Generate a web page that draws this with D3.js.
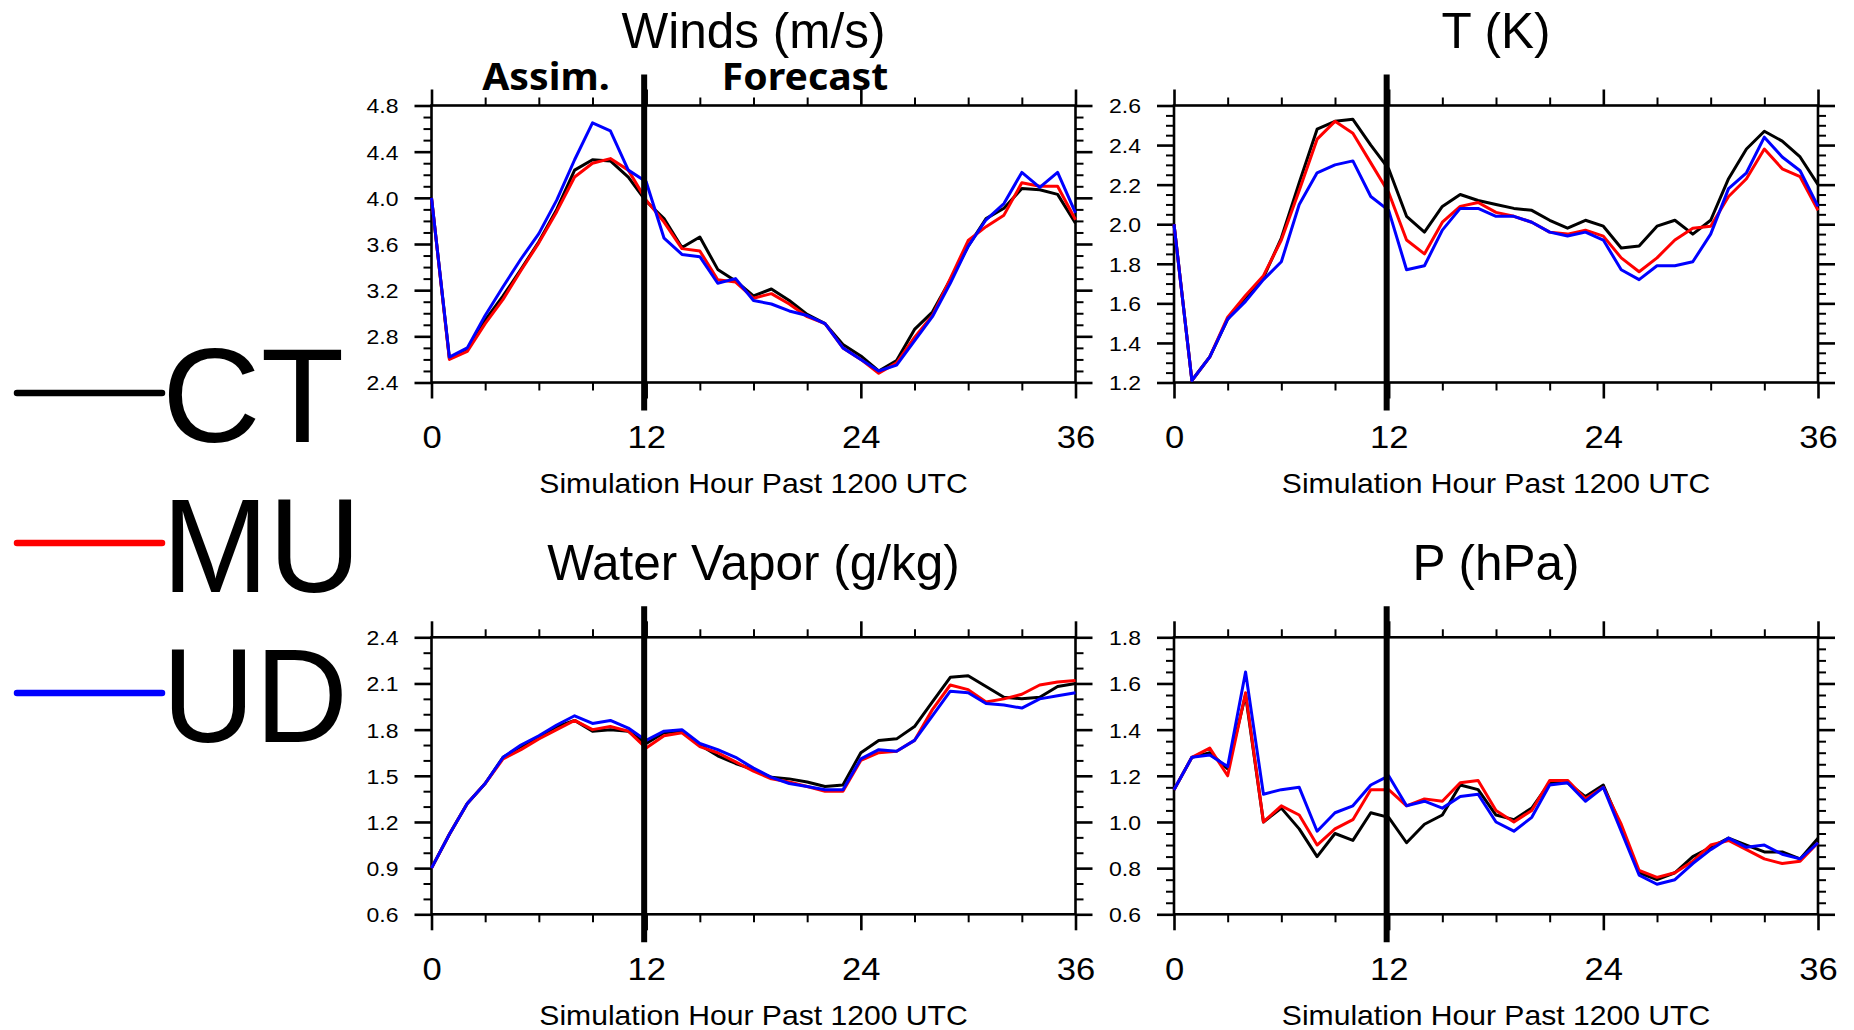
<!DOCTYPE html>
<html>
<head>
<meta charset="utf-8">
<script src="https://cdn.jsdelivr.net/npm/d3@7"></script>
<style>
  html, body { margin: 0; padding: 0; background: #ffffff; }
  svg { display: block; }
  text { font-family: "Liberation Sans", Arial, Helvetica, sans-serif; fill: #000; }
</style>
</head>
<body>
<svg id="chart" width="1854" height="1030"></svg>
<script>
// ---------------- DATA ----------------
const hours = [0,1,2,3,4,5,6,7,8,9,10,11,12,13,14,15,16,17,18,19,20,21,22,23,24,25,26,27,28,29,30,31,32,33,34,35,36];
const seriesNames = ["CT", "MU", "UD"];
const seriesColors = ["#000000", "#ff0000", "#0000ff"];

const windsCT = [4.00,2.61,2.69,2.94,3.15,3.38,3.62,3.90,4.24,4.33,4.32,4.18,3.97,3.82,3.57,3.66,3.38,3.28,3.15,3.21,3.11,2.99,2.91,2.73,2.63,2.50,2.59,2.86,3.01,3.29,3.58,3.82,3.91,4.08,4.07,4.03,3.78];
const windsMU = [4.00,2.60,2.67,2.91,3.12,3.37,3.61,3.88,4.18,4.30,4.34,4.24,3.98,3.79,3.56,3.54,3.29,3.27,3.13,3.17,3.08,2.97,2.91,2.70,2.60,2.48,2.57,2.79,2.98,3.30,3.63,3.75,3.85,4.13,4.10,4.10,3.81];
const windsUD = [4.00,2.62,2.70,2.98,3.23,3.47,3.69,3.98,4.33,4.65,4.58,4.24,4.14,3.65,3.51,3.49,3.26,3.30,3.11,3.08,3.02,2.98,2.91,2.70,2.60,2.50,2.55,2.76,2.97,3.26,3.58,3.81,3.95,4.22,4.09,4.22,3.87];

const tempCT = [2.00,1.21,1.33,1.52,1.63,1.73,1.93,2.21,2.48,2.52,2.53,2.40,2.28,2.04,1.96,2.09,2.15,2.12,2.10,2.08,2.07,2.02,1.98,2.02,1.99,1.88,1.89,1.99,2.02,1.95,2.02,2.23,2.38,2.47,2.42,2.34,2.20];
const tempMU = [2.00,1.21,1.33,1.53,1.64,1.74,1.92,2.17,2.43,2.52,2.46,2.31,2.16,1.92,1.85,2.01,2.09,2.11,2.06,2.04,2.01,1.96,1.95,1.97,1.94,1.83,1.76,1.83,1.92,1.98,1.99,2.14,2.23,2.38,2.28,2.24,2.07];
const tempUD = [2.00,1.21,1.33,1.52,1.61,1.72,1.81,2.10,2.26,2.30,2.32,2.14,2.07,1.77,1.79,1.97,2.08,2.08,2.04,2.04,2.01,1.96,1.94,1.96,1.92,1.77,1.72,1.79,1.79,1.81,1.95,2.18,2.26,2.44,2.34,2.27,2.09];

const vaporCT = [0.90,1.12,1.32,1.45,1.62,1.69,1.75,1.82,1.86,1.79,1.80,1.79,1.71,1.78,1.79,1.70,1.63,1.58,1.54,1.49,1.48,1.46,1.43,1.44,1.65,1.73,1.74,1.82,1.98,2.14,2.15,2.08,2.01,2.00,2.01,2.08,2.10];
const vaporMU = [0.90,1.12,1.32,1.45,1.61,1.67,1.74,1.80,1.86,1.80,1.82,1.79,1.68,1.76,1.78,1.69,1.65,1.59,1.53,1.48,1.46,1.43,1.40,1.40,1.60,1.65,1.66,1.73,1.93,2.09,2.06,1.98,2.00,2.03,2.09,2.11,2.12];
const vaporUD = [0.90,1.12,1.32,1.45,1.62,1.70,1.76,1.83,1.89,1.84,1.86,1.81,1.73,1.79,1.80,1.71,1.67,1.62,1.55,1.49,1.45,1.43,1.41,1.41,1.61,1.67,1.66,1.73,1.89,2.05,2.04,1.97,1.96,1.94,2.00,2.02,2.04];

const presCT = [1.14,1.28,1.30,1.23,1.55,1.00,1.06,0.97,0.85,0.95,0.92,1.04,1.02,0.91,0.99,1.03,1.16,1.14,1.03,1.01,1.06,1.17,1.17,1.11,1.16,0.98,0.78,0.75,0.78,0.85,0.89,0.93,0.90,0.87,0.87,0.84,0.93];
const presMU = [1.14,1.28,1.32,1.20,1.56,1.00,1.07,1.03,0.90,0.97,1.01,1.14,1.14,1.07,1.10,1.09,1.17,1.18,1.05,1.00,1.05,1.18,1.18,1.10,1.15,0.99,0.79,0.76,0.78,0.83,0.90,0.92,0.88,0.84,0.82,0.83,0.91];
const presUD = [1.14,1.28,1.29,1.24,1.65,1.12,1.14,1.15,0.96,1.04,1.07,1.16,1.20,1.07,1.09,1.06,1.11,1.12,1.00,0.96,1.02,1.16,1.17,1.09,1.15,0.96,0.77,0.73,0.75,0.82,0.88,0.93,0.89,0.90,0.86,0.84,0.91];

// ticks
const xMajorTicks = [0, 12, 24, 36];
const xMinorTicks = [3, 6, 9, 15, 18, 21, 27, 30, 33];
const xTickLabels = ["0", "12", "24", "36"];

const windsTicks = [2.4, 2.8, 3.2, 3.6, 4.0, 4.4, 4.8];
const windsTickLabels = ["2.4", "2.8", "3.2", "3.6", "4.0", "4.4", "4.8"];
const tempTicks = [1.2, 1.4, 1.6, 1.8, 2.0, 2.2, 2.4, 2.6];
const tempTickLabels = ["1.2", "1.4", "1.6", "1.8", "2.0", "2.2", "2.4", "2.6"];
const vaporTicks = [0.6, 0.9, 1.2, 1.5, 1.8, 2.1, 2.4];
const vaporTickLabels = ["0.6", "0.9", "1.2", "1.5", "1.8", "2.1", "2.4"];
const presTicks = [0.6, 0.8, 1.0, 1.2, 1.4, 1.6, 1.8];
const presTickLabels = ["0.6", "0.8", "1.0", "1.2", "1.4", "1.6", "1.8"];

const titles = ["Winds (m/s)", "T (K)", "Water Vapor (g/kg)", "P (hPa)"];
const xAxisTitle = "Simulation Hour Past 1200 UTC";
const phaseLabels = ["Assim.", "Forecast"];
const phaseLabelHours = [6.4, 20.88];
const splitHour = 12;

// ---------------- LAYOUT ----------------
const svg = d3.select("#chart");
svg.append("rect").attr("width", 1854).attr("height", 1030).attr("fill", "#fff");

const PW = 644, PH = 277;
const panels = [
  { left: 431.5, top: 105.5, series: [windsCT, windsMU, windsUD], domain: [2.4, 4.8], ticks: windsTicks, labels: windsTickLabels, minorStep: 0.1, title: titles[0] },
  { left: 1174,  top: 105.5, series: [tempCT, tempMU, tempUD],   domain: [1.2, 2.6], ticks: tempTicks, labels: tempTickLabels, minorStep: 0.05, title: titles[1] },
  { left: 431.5, top: 637.3, series: [vaporCT, vaporMU, vaporUD], domain: [0.6, 2.4], ticks: vaporTicks, labels: vaporTickLabels, minorStep: 0.1, title: titles[2] },
  { left: 1174,  top: 637.3, series: [presCT, presMU, presUD],   domain: [0.6, 1.8], ticks: presTicks, labels: presTickLabels, minorStep: 0.05, title: titles[3] }
];

function stretch(sel, k) {
  sel.each(function() {
    const w = this.getComputedTextLength();
    d3.select(this).attr("textLength", w * k).attr("lengthAdjust", "spacingAndGlyphs");
  });
}

function styleAxis(g, width) {
  g.select(".domain").remove();
  g.selectAll(".tick line").attr("stroke", "#000").attr("stroke-width", width);
}

panels.forEach((p, pi) => {
  const g = svg.append("g").attr("transform", `translate(${p.left},${p.top})`);
  const x = d3.scaleLinear().domain([0, 36]).range([0, PW]);
  const y = d3.scaleLinear().domain(p.domain).range([PH, 0]);

  const minor = d3.range(p.domain[0], p.domain[1] + 1e-9, p.minorStep)
    .filter(v => !p.ticks.some(t => Math.abs(t - v) < 1e-6));

  // minor ticks
  const axes = [
    [d3.axisLeft(y).tickValues(minor).tickSize(8).tickFormat(""), 0, 0],
    [d3.axisRight(y).tickValues(minor).tickSize(8).tickFormat(""), PW, 0],
    [d3.axisBottom(x).tickValues(xMinorTicks).tickSize(8).tickFormat(""), 0, PH],
    [d3.axisTop(x).tickValues(xMinorTicks).tickSize(8).tickFormat(""), 0, 0]
  ];
  axes.forEach(([ax, tx, ty]) => {
    g.append("g").attr("transform", `translate(${tx},${ty})`).call(ax).call(s => styleAxis(s, 2));
  });

  // major ticks
  const majors = [
    [d3.axisRight(y).tickValues(p.ticks).tickSize(17).tickFormat(""), PW, 0],
    [d3.axisTop(x).tickValues(xMajorTicks).tickSize(16).tickFormat(""), 0, 0]
  ];
  majors.forEach(([ax, tx, ty]) => {
    g.append("g").attr("transform", `translate(${tx},${ty})`).call(ax).call(s => styleAxis(s, 2.6));
  });

  // left axis with labels
  const yl = g.append("g")
    .call(d3.axisLeft(y).tickValues(p.ticks).tickSize(17).tickFormat((d, i) => p.labels[i]))
    .call(s => styleAxis(s, 2.6));
  yl.selectAll(".tick text")
    .attr("x", -33).attr("dy", "0.36em")
    .style("font-size", "20.5px").attr("font-family", "Liberation Sans, Arial, sans-serif")
    .attr("fill", "#000");
  stretch(yl.selectAll(".tick text"), 1.12);

  // bottom axis with labels
  const xl = g.append("g").attr("transform", `translate(0,${PH})`)
    .call(d3.axisBottom(x).tickValues(xMajorTicks).tickSize(16).tickFormat((d, i) => xTickLabels[i]))
    .call(s => styleAxis(s, 2.6));
  xl.selectAll(".tick text")
    .attr("y", 65.5).attr("dy", 0)
    .style("font-size", "32px").attr("font-family", "Liberation Sans, Arial, sans-serif")
    .attr("fill", "#000");
  stretch(xl.selectAll(".tick text"), 1.08);

  // border
  g.append("rect").attr("x", 0).attr("y", 0).attr("width", PW).attr("height", PH)
    .attr("fill", "none").attr("stroke", "#000").attr("stroke-width", 2.6);

  // series lines
  const line = d3.line().x((d, i) => x(hours[i])).y(d => y(d));
  p.series.forEach((s, si) => {
    g.append("path").datum(s)
      .attr("d", line)
      .attr("fill", "none")
      .attr("stroke", seriesColors[si])
      .attr("stroke-width", 3)
      .attr("stroke-linejoin", "round");
  });

  // split line at hour 12
  g.append("line")
    .attr("x1", x(splitHour) - 2).attr("x2", x(splitHour) - 2)
    .attr("y1", -31).attr("y2", PH + 28)
    .attr("stroke", "#000").attr("stroke-width", 6);

  // title
  g.append("text")
    .attr("x", PW / 2).attr("y", -57.5)
    .attr("text-anchor", "middle")
    .style("font-size", "49.5px")
    .text(p.title);

  // x axis title
  const xt = g.append("text")
    .attr("x", PW / 2).attr("y", PH + 110.5)
    .attr("text-anchor", "middle")
    .style("font-size", "28px")
    .text(xAxisTitle);
  stretch(xt, 1.075);

  if (pi === 0) {
    phaseLabels.forEach((lab, li) => {
      const t = g.append("text")
        .attr("x", x(phaseLabelHours[li])).attr("y", -15.5)
        .attr("text-anchor", "middle")
        .attr("font-weight", "bold")
        .style("font-size", "37px")
        .style("font-family", "'Noto Sans', 'Open Sans', sans-serif")
        .text(lab);
      stretch(t, 1.06);
    });
  }
});

// ---------------- LEGEND ----------------
const legend = svg.append("g");
const legendY = [393, 543, 693];
const legendStretch = [1.02, 0.955, 0.96];
seriesNames.forEach((name, i) => {
  legend.append("line")
    .attr("x1", 17).attr("x2", 162)
    .attr("y1", legendY[i]).attr("y2", legendY[i])
    .attr("stroke", seriesColors[i]).attr("stroke-width", 6.5)
    .attr("stroke-linecap", "round");
  const t = legend.append("text")
    .attr("x", 162).attr("y", legendY[i] + 49)
    .style("font-size", "134px")
    .text(name);
  stretch(t, legendStretch[i]);
});
</script>
</body>
</html>
